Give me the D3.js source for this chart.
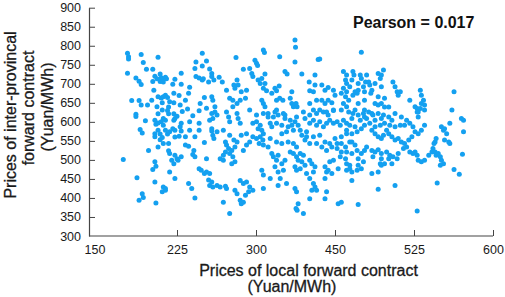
<!DOCTYPE html>
<html>
<head>
<meta charset="utf-8">
<script src="https://cdn.jsdelivr.net/npm/d3@7"></script>
<style>
body { margin: 0; background: #fff; }
svg text { font-family: "Liberation Sans", Arial, sans-serif; }
</style>
</head>
<body>
<div id="chart"></div>
<script>
/* Scatter of local vs inter-provincial forward contract prices (Yuan/MWh). */

/* x tick labels as printed: evenly spaced on the page, though not evenly valued */
var xTickLabels = [150, 225, 300, 450, 525, 600];
var yTickValues = [300, 350, 400, 450, 500, 550, 600, 650, 700, 750, 800, 850, 900];
var pearsonR = 0.017;

/* [local price, inter-provincial price] */
var samples = [
  [178,780],[179,771],[179,765],[191,777],[193,756],[178,728],[196,738],[202,738],[207,770],[186,715],
  [189,707],[191,698],[202,706],[204,720],[206,713],[209,726],[210,716],[209,706],[211,710],[214,717],
  [215,713],[212,705],[203,683],[223,712],[229,728],[221,699],[229,699],[237,691],[236,675],[207,666],
  [210,663],[212,666],[214,670],[216,664],[222,675],[227,669],[182,656],[189,656],[191,644],[197,644],
  [186,620],[186,614],[211,650],[217,639],[222,650],[228,644],[235,634],[216,630],[217,621],[222,621],
  [225,615],[223,609],[212,609],[207,621],[246,629],[240,616],[249,780],[243,757],[249,747],[253,760],
  [242,740],[243,719],[246,715],[249,710],[250,713],[256,739],[258,727],[258,719],[260,710],[255,705],
  [251,664],[258,666],[259,657],[253,636],[247,648],[230,627],
  [201,657],[206,640],[211,631],[218,653],[233,657],
  [195,603],[190,580],[192,571],[204,604],[205,594],[207,597],[210,600],[212,591],[214,604],[204,569],
  [207,578],[209,568],[214,578],[216,568],[218,574],[221,582],[223,578],[222,604],[228,587],[229,596],
  [229,576],[223,560],[227,562],[204,561],[209,553],[211,559],[217,543],[233,539],[236,536],[237,600],
  [246,596],[246,578],[251,546],[258,576],[260,556],[198,525],[217,524],[218,517],[223,512],[225,503],
  [226,499],[229,508],[220,499],[222,490],[241,525],[240,514],[242,508],[246,477],[248,473],[251,464],
  [253,468],[253,503],[204,495],[205,483],[202,475],[218,468],[223,451],[187,453],[204,442],[212,429],
  [214,420],[211,416],[214,425],[192,411],[193,401],[189,394],[205,387],[236,438],[239,425],[242,400],
  [255,447],[174,501],
  [207,534],[212,543],[233,561],[237,578],[242,561],
  [265,717],[268,705],[261,640],[272,683],[281,769],[275,662],[278,657],[282,710],[283,697],[279,697],
  [280,688],[278,640],[282,648],[285,657],[288,738],[286,679],[291,683],[294,740],[296,727],[297,719],
  [299,762],[301,754],[303,748],[290,662],[304,710],[311,714],[308,701],[314,688],[317,701],[320,682],
  [314,789],[316,782],[317,726],[311,657],[314,648],[317,640],[330,675],[336,688],[339,682],[344,694],
  [345,771],[339,657],[345,662],[351,657],[355,732],[359,726],[368,679],[374,815],[375,796],[374,757],
  [365,662],[368,648],[371,640],[376,648],[378,640],[387,726],[401,705],[409,679],[412,697],[402,682],
  [402,648],[418,764],[421,765],[412,723],[425,697],[431,683],[437,690],[447,683],[450,670],[415,657],
  [425,657],[431,648],[437,657],[444,650],[409,631],[421,631],[434,626],[447,631],[458,732],[461,723],
  [460,710],[461,701],[458,688],[461,679],[456,675],[460,666],[463,657],[458,648],[461,640],[456,631],
  [294,631],[301,618],[323,622],[339,631],[355,618],[390,626],[402,618],[393,609],
  [258,622],[261,626],[263,618],[259,609],[256,604],[272,626],[274,613],[275,600],[269,578],[263,574],
  [258,582],[259,565],[282,622],[283,609],[285,596],[275,565],[279,552],[282,547],[280,534],[277,525],
  [271,547],[272,539],[274,530],[271,521],[269,512],[275,517],[278,508],[280,495],[277,490],[266,503],
  [269,499],[288,525],[291,539],[294,547],[286,565],[291,569],[297,596],[301,600],[308,591],[304,582],
  [311,578],[314,569],[297,561],[301,556],[308,561],[313,552],[306,543],[314,539],[327,596],[330,587],
  [339,596],[336,626],[342,618],[333,613],[365,604],[368,591],[374,600],[377,613],[349,569],[358,574],
  [384,578],[387,565],[393,552],[396,561],[402,596],[409,604],[415,591],[421,600],[428,587],[434,596],
  [440,604],[447,596],[452,600],[455,591],[458,604],[461,596],[415,622],[428,626],[437,618],[447,630],
  [409,561],[421,565],[431,547],[440,543],[450,556],[456,543],[460,534],[464,547],[323,534],[330,517],
  [333,508],[339,499],[342,512],[349,490],[355,499],[336,482],[342,468],[352,473],[365,521],[371,517],
  [377,508],[380,499],[384,517],[390,512],[387,495],[393,486],[374,482],[377,473],[384,477],[396,464],
  [402,499],[406,490],[412,482],[409,468],[431,482],[434,468],[437,473],[402,451],[409,438],[412,429],
  [415,420],[406,420],[374,425],[377,416],[380,385],[376,372],[378,368],[390,359],[402,398],[358,438],
  [346,451],[342,433],[311,473],[314,460],[327,451],[314,425],[297,420],[288,438],[291,442],[294,429],
  [293,416],[290,407],[282,411],[285,394],[286,385],[288,389],[275,359],[269,389],[280,420],[285,446],
  [256,433],[259,429],[263,433],[266,429],[271,431],[272,425],[256,464],[258,442],[431,451],[444,464],
  [453,477],[461,473],[434,416],[431,398],[453,385],[456,389],[460,503],[461,490],[464,486],[464,477],
  [452,530],[456,521],[455,508],[440,495],[447,499],
  [314,622],[323,613],[352,622],[355,609],[361,587],[371,578],[380,591],[349,591],
  [396,574],[402,543],[415,543],[425,534],[434,525],[444,534],[452,543],[456,561],[461,569],
  [327,556],[339,547],[349,543],[361,547],[371,543],[377,534],
  [475,783],[467,732],[468,723],[474,723],[475,714],[479,705],[480,723],[482,705],[491,727],[494,723],
  [496,736],[493,714],[464,692],[469,679],[472,683],[477,692],[478,679],[483,697],[485,683],[484,675],
  [467,670],[471,675],[505,705],[507,692],[509,679],[512,679],[510,670],[531,683],[532,670],[534,657],
  [535,644],[532,648],[528,635],[529,626],[521,657],[563,679],[561,631],[570,609],[488,648],[491,644],
  [494,648],[497,639],[501,639],[478,631],[485,622],[526,640],[528,626],[531,635],[529,613],
  [466,710],[472,701],[488,701],[494,692],[491,666],[497,662],[478,657],[472,648],
  [463,626],[467,622],[472,618],[477,622],[482,626],[486,618],[491,622],[496,618],[501,613],[466,609],
  [474,604],[480,609],[488,604],[535,631],[572,604],[572,574],[571,515],[464,591],[469,587],[461,578],
  [466,569],[471,574],[475,582],[478,591],[483,596],[488,587],[493,591],[497,596],[502,591],[507,587],
  [512,591],[516,591],[521,596],[524,587],[526,574],[529,569],[532,578],[535,591],[488,569],[491,561],
  [494,556],[496,565],[501,569],[504,561],[507,552],[510,556],[513,547],[516,543],[520,552],[523,561],
  [545,547],[546,556],[544,543],[553,578],[554,582],[556,569],[558,547],[559,543],[554,552],[551,587],
  [559,596],[469,539],[461,521],[466,517],[471,525],[475,517],[478,525],[472,503],[477,495],[485,525],
  [488,521],[491,527],[494,517],[499,521],[502,512],[505,508],[509,503],[510,517],[494,503],[501,503],
  [515,530],[518,534],[521,521],[524,517],[526,521],[528,512],[529,499],[532,495],[535,499],[539,512],
  [542,521],[543,530],[545,521],[546,512],[548,517],[550,508],[551,499],[553,490],[550,486],[466,468],
  [471,473],[475,477],[466,446],[472,486],[485,464],[491,468],[494,486],[493,490],[491,423],[507,433],
  [472,383],[528,366],[547,439],[563,475],[568,462],
  [469,631],[478,613],[494,609],[504,604],[507,622],[513,613],[518,604],[499,578],[485,578],
  [466,547],[480,534],[486,508],[497,490],[504,490]
];

var width = 505, height = 297;
var axisX = 89,            /* where the y axis line sits */
    plotLeft = 98, plotRight = 493,
    plotTop = 7.7, plotBottom = 236;

/* piecewise scale so the printed labels fall on evenly spaced ticks */
var step = (plotRight - plotLeft) / (xTickLabels.length - 1);
var x = d3.scaleLinear()
    .domain(xTickLabels)
    .range(xTickLabels.map(function(d, i) { return plotLeft + i * step; }));

var y = d3.scaleLinear()
    .domain([300, 900])
    .range([plotBottom, plotTop]);

var svg = d3.select("#chart").append("svg")
    .attr("width", width)
    .attr("height", height);

var axisColor = "#444";

/* x axis: ticks point into the plot */
var xAxis = d3.axisBottom(x)
    .tickValues(xTickLabels.slice(1))
    .tickFormat(d3.format("d"))
    .tickSizeInner(-6)
    .tickSizeOuter(0)
    .tickPadding(9);

var gx = svg.append("g")
    .attr("transform", "translate(0," + plotBottom + ")")
    .call(xAxis);
gx.select(".domain").remove();
gx.selectAll(".tick line").attr("stroke", axisColor);
gx.selectAll("text").attr("font-size", 12.5).attr("fill", "#1a1a1a").attr("font-family", null);
/* first label has no tick mark of its own */
gx.append("text")
    .attr("x", x(xTickLabels[0]) - 3)
    .attr("y", 9)
    .attr("dy", "0.71em")
    .attr("text-anchor", "middle")
    .attr("font-size", 12.5)
    .attr("fill", "#1a1a1a")
    .text(xTickLabels[0]);
gx.append("line")
    .attr("x1", axisX).attr("x2", plotRight)
    .attr("stroke", axisColor)
    .attr("stroke-width", 1.2);

/* y axis */
var yAxis = d3.axisLeft(y)
    .tickValues(yTickValues)
    .tickSizeInner(-6)
    .tickSizeOuter(0)
    .tickPadding(8);

var gy = svg.append("g")
    .attr("transform", "translate(" + axisX + ",0)")
    .call(yAxis);
gy.select(".domain").attr("stroke", axisColor).attr("stroke-width", 1.2);
gy.selectAll(".tick line").attr("stroke", axisColor);
gy.selectAll(".tick").filter(function(d) { return d === 300; }).select("line").remove();
gy.selectAll("text").attr("font-size", 12.5).attr("fill", "#1a1a1a").attr("font-family", null);

/* points */
svg.append("g")
  .selectAll("circle")
    .data(samples)
  .enter().append("circle")
    .attr("cx", function(d) { return x(d[0]); })
    .attr("cy", function(d) { return y(d[1]); })
    .attr("r", 2.5)
    .attr("fill", "#14a0f0");

/* axis titles */
var titleStyle = function(t) {
    t.attr("font-size", 16)
     .attr("fill", "#1a1a1a")
     .attr("stroke", "#1a1a1a")
     .attr("stroke-width", 0.3)
     .attr("text-anchor", "middle");
};

svg.append("text").call(titleStyle)
    .attr("x", 308.5).attr("y", 276)
    .text("Prices of local forward contract");
svg.append("text").call(titleStyle)
    .attr("x", 292).attr("y", 291.5)
    .text("(Yuan/MWh)");

var yTitle = ["Prices of inter-provincal", "forward contract", "(Yuan/MWh)"];
var yTitleCenter = [115, 108, 107];
svg.selectAll(".ytitle")
    .data(yTitle)
  .enter().append("text")
    .attr("class", "ytitle")
    .call(titleStyle)
    .attr("transform", function(d, i) {
        return "translate(" + (15.5 + i * 18.5) + "," + yTitleCenter[i] + ") rotate(-90)";
    })
    .text(function(d) { return d; });

/* correlation note */
svg.append("text")
    .attr("x", 353).attr("y", 28)
    .attr("font-size", 16)
    .attr("font-weight", "bold")
    .attr("fill", "#111")
    .text("Pearson = " + pearsonR.toFixed(3));
</script>
</body>
</html>
